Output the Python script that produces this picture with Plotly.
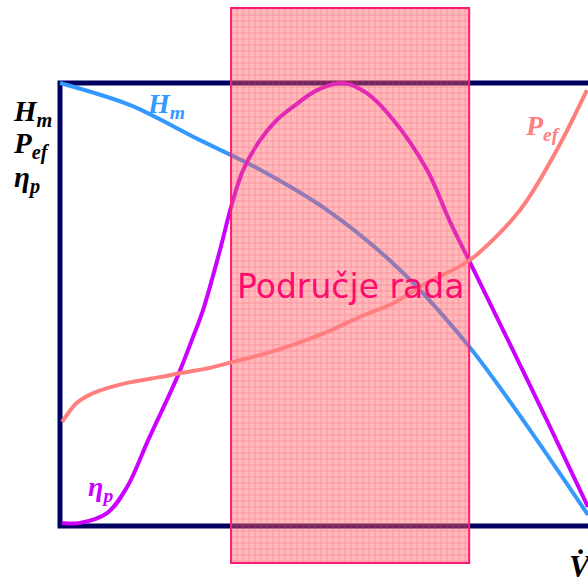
import plotly.graph_objects as go

# ---------------- data ----------------
# flow rate V (normalised 0..1 across the frame), curve values (normalised 0..1 to frame height)
H_V = [0.0, 0.133, 0.265, 0.373, 0.506, 0.644, 0.777, 0.877, 1.0]
H_M = [1.0, 0.950, 0.871, 0.808, 0.713, 0.578, 0.402, 0.239, 0.025]

ETA_V = [0.004, 0.038, 0.089, 0.127, 0.167, 0.222, 0.252, 0.271, 0.303, 0.324, 0.347,
         0.379, 0.411, 0.441, 0.487, 0.536, 0.581, 0.631, 0.695, 0.739, 0.777, 0.922, 1.0]
ETA_P = [0.007, 0.007, 0.029, 0.088, 0.194, 0.336, 0.427, 0.488, 0.623, 0.720, 0.804,
         0.871, 0.917, 0.946, 0.984, 1.0, 0.977, 0.917, 0.804, 0.686, 0.594, 0.239, 0.043]

P_V = [0.004, 0.032, 0.063, 0.127, 0.189, 0.227, 0.284, 0.326, 0.379, 0.441, 0.506,
       0.568, 0.631, 0.695, 0.777, 0.871, 0.941, 0.998]
P_EF = [0.235, 0.278, 0.300, 0.323, 0.336, 0.345, 0.357, 0.370, 0.386, 0.409, 0.438,
        0.472, 0.503, 0.549, 0.601, 0.713, 0.849, 0.984]

OP_RANGE = [0.324, 0.775]          # "Područje rada" (operating range) in V units
OP_LABEL = "Područje rada"

# ---------------- figure ----------------
W, H = 588, 581
XR = [-0.11364, 1.0]
YR = [-0.12415, 1.18736]

fig = go.Figure()

fig.add_trace(go.Scatter(x=H_V, y=H_M, mode="lines",
                         line=dict(color="#3399ff", width=4, shape="spline", smoothing=0.9),
                         hoverinfo="skip", xaxis="x", yaxis="y"))
fig.add_trace(go.Scatter(x=ETA_V, y=ETA_P, mode="lines",
                         line=dict(color="#cc00ff", width=4, shape="spline", smoothing=1.0),
                         hoverinfo="skip", xaxis="x", yaxis="y"))

# operating-range band (overlay axes so it sits above H_m and eta_p)
band_bottom, band_top = -0.0835, 1.1693
fig.add_trace(go.Bar(
    x=[(OP_RANGE[0] + OP_RANGE[1]) / 2], y=[band_top - band_bottom], base=[band_bottom],
    width=[OP_RANGE[1] - OP_RANGE[0]],
    marker=dict(color="rgba(255,87,100,0.45)",
                line=dict(color="#ff1a75", width=2),
                pattern=dict(shape="+", size=6, solidity=0.18, fillmode="replace",
                             bgcolor="rgba(255,90,100,0.42)", fgcolor="rgba(255,63,85,0.5)")),
    hoverinfo="skip", xaxis="x2", yaxis="y2"))

fig.add_trace(go.Scatter(x=P_V, y=P_EF, mode="lines",
                         line=dict(color="#ff7f7f", width=4, shape="spline", smoothing=0.9),
                         hoverinfo="skip", xaxis="x3", yaxis="y3"))

# frame
fig.add_shape(type="rect", x0=0, x1=1.2, y0=0, y1=1, xref="x", yref="y",
              line=dict(color="#000060", width=5), layer="below")

ax = dict(range=XR, visible=False, fixedrange=True)
ay = dict(range=YR, visible=False, fixedrange=True)
fig.update_layout(
    width=W, height=H, margin=dict(l=0, r=0, t=0, b=0),
    paper_bgcolor="white", plot_bgcolor="rgba(0,0,0,0)", showlegend=False,
    xaxis=dict(domain=[0, 1], **ax), yaxis=dict(domain=[0, 1], **ay),
    xaxis2=dict(overlaying="x", **ax), yaxis2=dict(overlaying="y", **ay),
    xaxis3=dict(overlaying="x", **ax), yaxis3=dict(overlaying="y", **ay),
    bargap=0,
)

serif = "Liberation Serif"

def lab(text, px, py, color, size=28, xanchor="left", family=serif):
    fig.add_annotation(text=text, x=px / W, y=1 - py / H, xref="paper", yref="paper",
                       xanchor=xanchor, yanchor="middle", showarrow=False,
                       font=dict(family=family, size=size, color=color))

lab("<b><i>H<sub>m</sub></i></b>", 11, 113, "black", size=29)
lab("<b><i>P<sub>ef</sub></i></b>", 11, 146, "black", size=29)
lab("<b><i>η<sub>p</sub></i></b>", 12, 180, "black", size=29)
lab("<b><i>H<sub>m</sub></i></b>", 145, 105, "#3399ff", size=28)
lab("<b><i>P<sub>ef</sub></i></b>", 523, 127, "#ff7f7f", size=28)
lab("<b><i>η<sub>p</sub></i></b>", 86, 488, "#cc00ff", size=28)
lab("<b><i>V\u0307</i></b>", 567, 566, "black", size=31)
lab(OP_LABEL, 350, 286, "#ff0a6e", size=33, xanchor="center", family="DejaVu Sans")

fig.write_html("out.html", config=dict(displayModeBar=False, staticPlot=True),
               post_script="document.body.style.margin='0';")
